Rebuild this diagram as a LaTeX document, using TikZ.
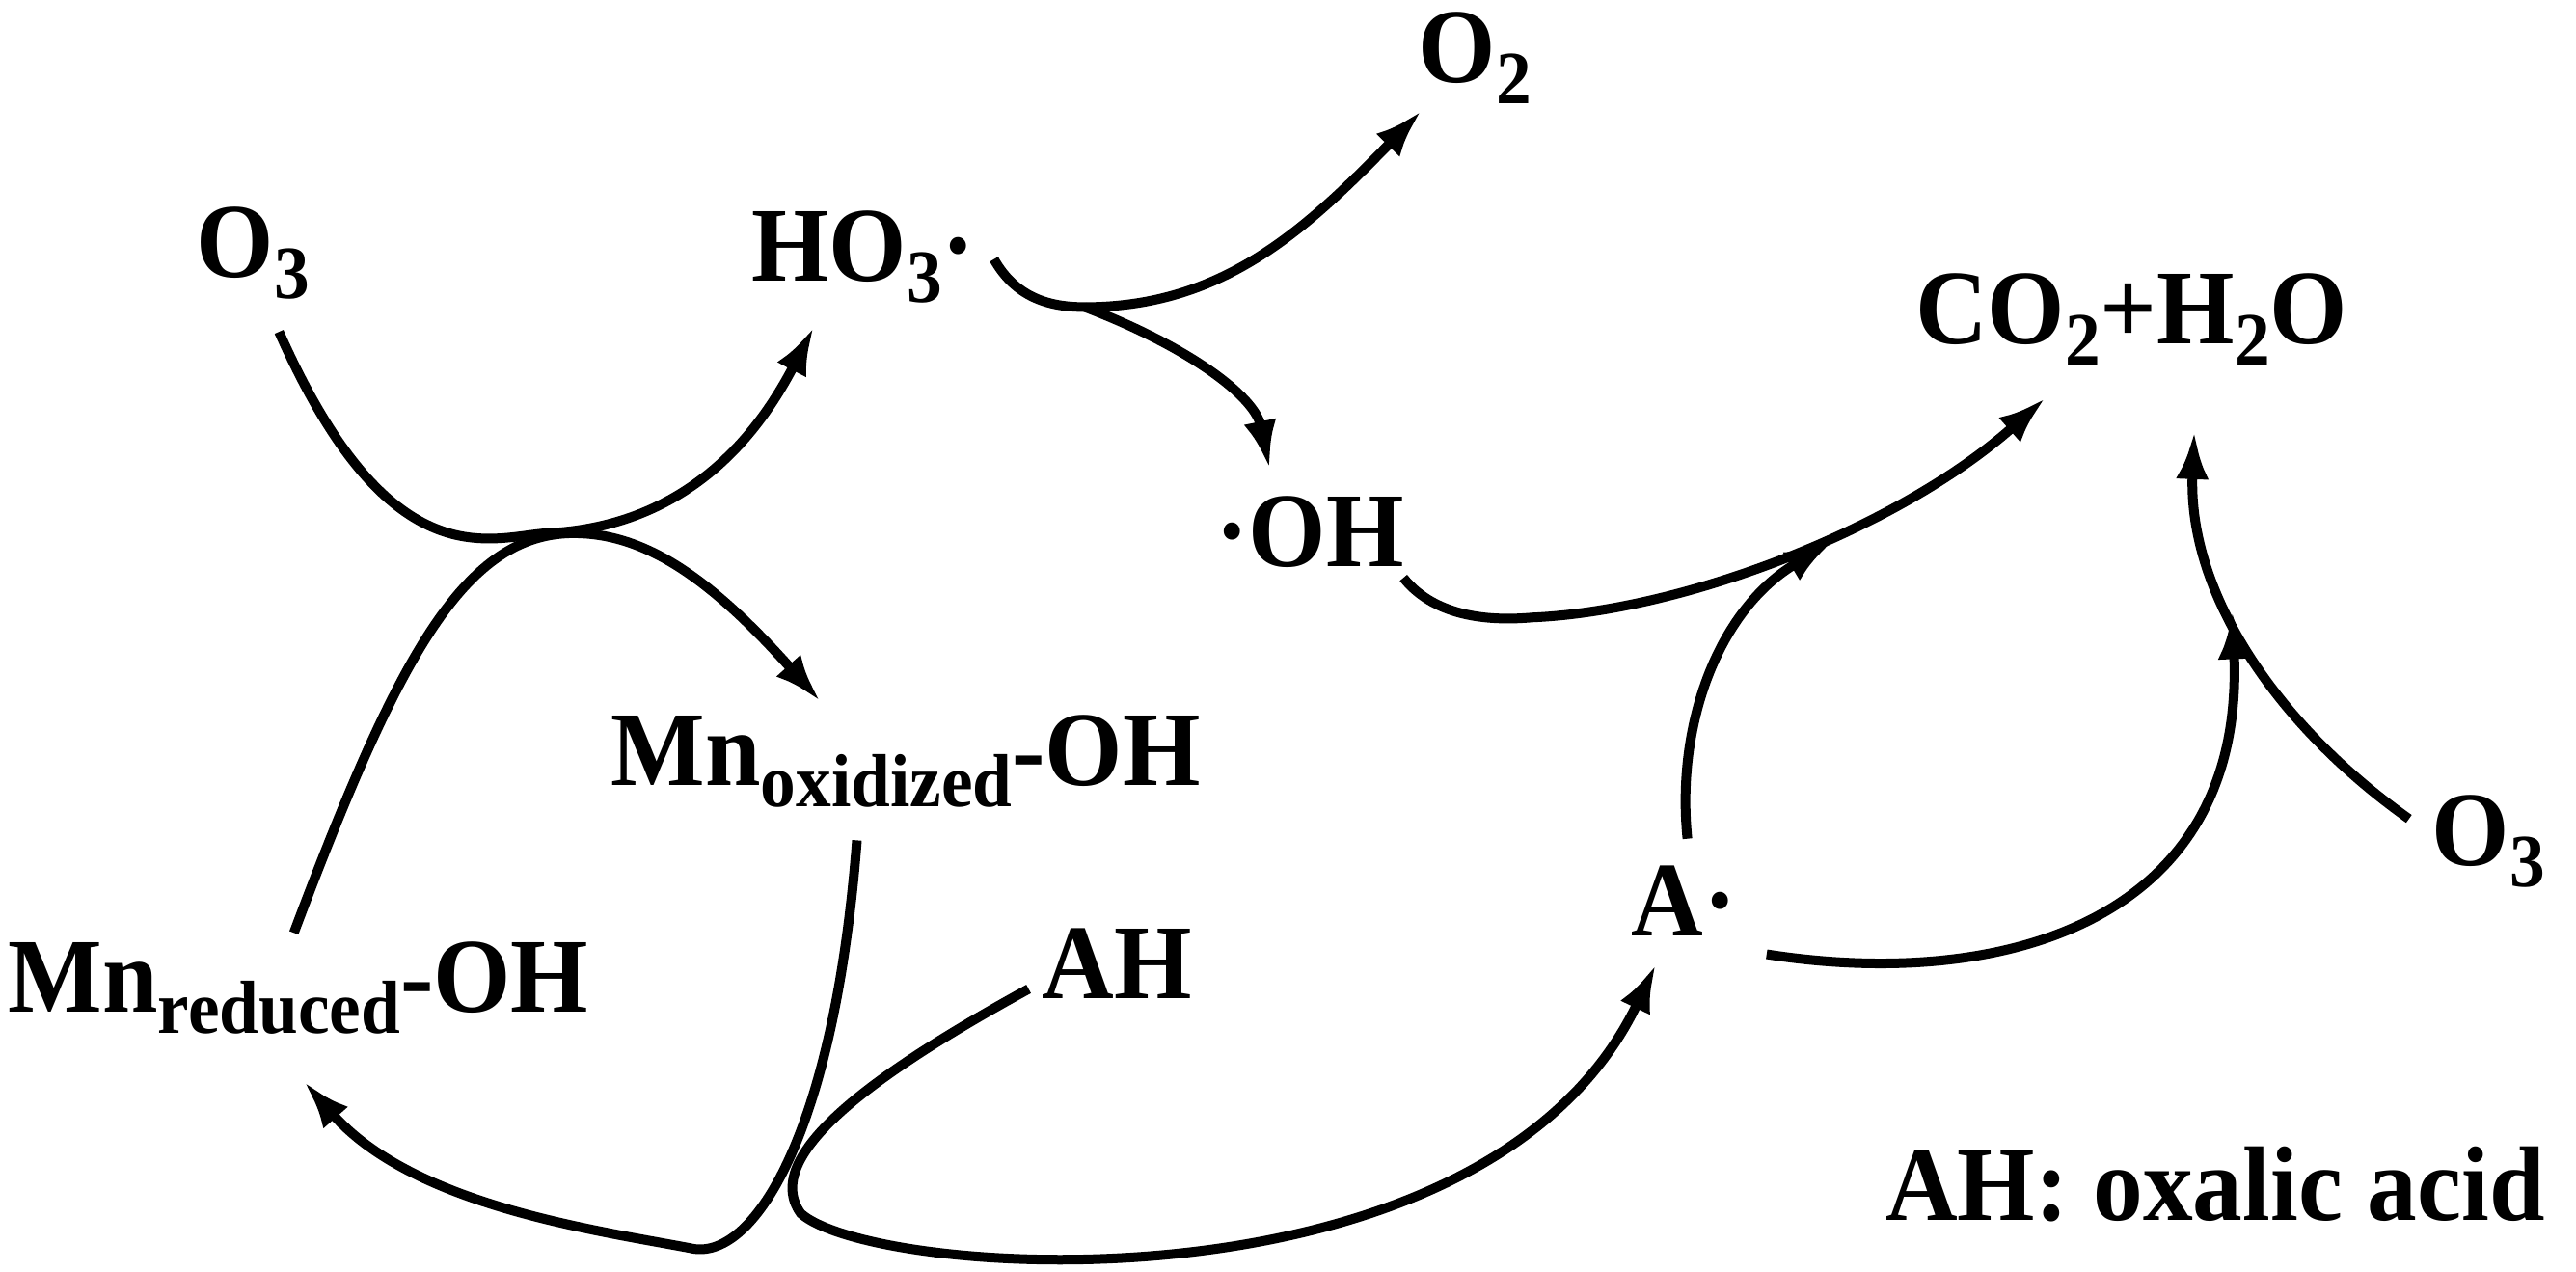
\documentclass[tikz,border=0pt]{standalone}
\usepackage{fontspec}
\setmainfont[FakeStretch=0.94]{Liberation Serif}
\usetikzlibrary{arrows.meta}
\newcommand{\sbt}[1]{\raisebox{-22pt}{\fontsize{78}{78}\selectfont #1}}
\tikzset{
  lbl/.style={anchor=base west,inner sep=0pt,font=\fontsize{110}{120}\selectfont\bfseries},
  rx/.style={line width=10pt,line cap=butt,-{Latex[length=50pt,width=34pt]}},
}
\begin{document}
\begin{tikzpicture}[x=1.712pt,y=-1.712pt]
\useasboundingbox (0,0) rectangle (1560.2,769.9);
\node[lbl] (o3a) at (119,168) {O\sbt{3}};
\node[lbl] (ho3) at (455,170) {HO\sbt{3}·};
\node[lbl] (o2) at (859,50) {O\sbt{2}};
\node[lbl] (co2) at (1160,208) {CO\sbt{2}+H\sbt{2}O};
\node[lbl] (oh) at (736,343) {·OH};
\node[lbl] (mnox) at (370,476) {Mn\sbt{oxidized}-OH};
\node[lbl] (mnred) at (5,613) {Mn\sbt{reduced}-OH};
\node[lbl] (ah) at (631,605) {AH};
\node[lbl] (ar) at (988,567) {A·};
\node[lbl] (o3b) at (1473,524) {O\sbt{3}};
\node[lbl] (leg) at (1142,739) {AH: oxalic acid};
% endpoints
\coordinate (a1) at (169,201); \coordinate (a2) at (493,198);
\coordinate (b1) at (178,565); \coordinate (b2) at (497,425);
\coordinate (c1) at (602,157); \coordinate (cj) at (657,186);
\coordinate (c2) at (861,67); \coordinate (c3) at (769,284);
\coordinate (d1) at (850,350); \coordinate (d2) at (1239,241);
\coordinate (e1) at (1022,508); \coordinate (e2) at (1110,328);
\coordinate (f1) at (1459,496); \coordinate (f2) at (1329,261);
\coordinate (g1) at (1070,578); \coordinate (g2) at (1352,370);
\coordinate (h1) at (519,509); \coordinate (h2) at (184,655);
\coordinate (i1) at (623,599); \coordinate (i2) at (1003,584);
% connectors
\draw[rx] (a1) .. controls (235,350) and (295,326) .. (330,323) .. controls (380,321) and (440,300) .. (a2);
\draw[rx] (b1) .. controls (240,400) and (280,325) .. (345,323) .. controls (390,322) and (430,350) .. (b2);
\draw[rx] (c1) .. controls (615,180) and (635,186) .. (cj) .. controls (740,186) and (790,140) .. (c2);
\draw[rx] (cj) .. controls (720,210) and (760,240) .. (c3);
\draw[rx] (d1) .. controls (870,375) and (905,376) .. (928,374) .. controls (1020,370) and (1150,320) .. (d2);
\draw[rx] (e1) .. controls (1015,440) and (1040,370) .. (e2);
\draw[rx] (f1) .. controls (1380,440) and (1325,360) .. (f2);
\draw[rx] (g1) .. controls (1210,600) and (1360,560) .. (g2);
\draw[rx] (h1) .. controls (505,690) and (455,765) .. (418,756) .. controls (360,745) and (250,730) .. (h2);
\draw[rx] (i1) .. controls (530,650) and (460,700) .. (485,735) .. controls (530,775) and (900,800) .. (i2);
\end{tikzpicture}
\end{document}
